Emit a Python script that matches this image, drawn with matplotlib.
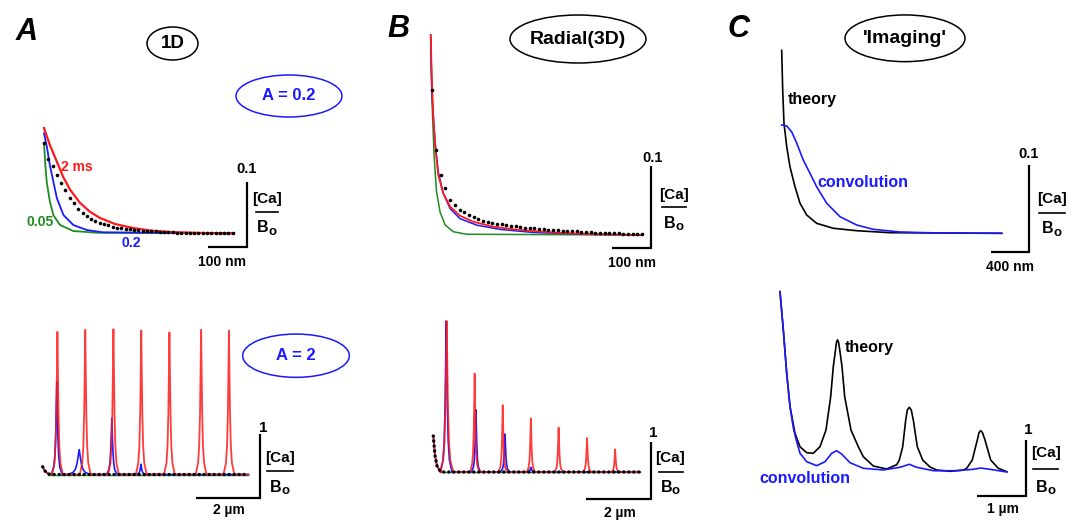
import matplotlib
matplotlib.use("Agg")
import matplotlib.pyplot as plt
from matplotlib.patches import Ellipse

W, H = 1079, 521

plt.rcParams['font.family'] = ['Liberation Sans', 'DejaVu Sans']

RED = '#ff1a1a'
BLUE = '#1a1aff'
GREEN = '#1e8c1e'

# ---- A top: 1D profile near the source, x in nm, y in [Ca]/Bo
a_top_red_x = [0, 15, 31, 49, 67, 92, 118, 144, 182, 228, 272, 323, 400, 487]
a_top_red_y = [0.162, 0.136, 0.113, 0.087, 0.067, 0.047, 0.033, 0.0235, 0.0143, 0.0082, 0.0043, 0.002, 0.0005, 0]
a_top_blue_x = [0, 8, 15, 33, 50, 75, 110, 151, 487]
a_top_blue_y = [0.154, 0.131, 0.105, 0.054, 0.028, 0.0128, 0.005, 0.0015, 0]
a_top_green_x = [0, 3.5, 7, 15, 24, 41, 75, 135, 487]
a_top_green_y = [0.139, 0.105, 0.079, 0.049, 0.028, 0.0128, 0.0035, 0.0009, 0]
# sampled points (black dots)
a_top_dots_x = [0, 11, 22, 33, 44, 55, 66, 77, 88, 99, 110, 121, 132, 143, 154, 165, 176, 187, 198,
                209, 220, 231, 242, 253, 264, 275, 286, 297, 308, 319, 330, 341, 352, 363, 374, 385,
                396, 407, 418, 429, 440, 451, 462, 473, 484]
a_top_dots_y = [0.139, 0.115, 0.103, 0.090, 0.078, 0.066, 0.055, 0.046, 0.037, 0.031, 0.026, 0.022,
                0.019, 0.0163, 0.0143, 0.0124, 0.0104, 0.0086, 0.0078, 0.007, 0.0063, 0.0056, 0.0049,
                0.0042, 0.0035, 0.0031, 0.0028, 0.0024, 0.0021, 0.0018, 0.0015, 0.0012, 0.0009,
                0.0008, 0.0007, 0.0006, 0.0005, 0.0004, 0.0003, 0.0003, 0.0002, 0.0001, 0.0001, 0, 0]

# ---- A bottom: 1D, A = 2, x in um
a_bot_start_x = [0, 0.07, 0.18, 0.3]
a_bot_start_y = [0.12, 0.055, 0.008, 0]
a_bot_red_c = [0.46, 1.33, 2.21, 3.08, 3.96, 4.95, 5.82]
a_bot_red_h = [2.23, 2.26, 2.27, 2.25, 2.22, 2.26, 2.25]
a_bot_blue_c = [0.44, 1.14, 2.16, 3.07]
a_bot_blue_h = [1.45, 0.39, 0.88, 0.16]
a_bot_blue_w = [0.17, 0.35, 0.17, 0.15]
a_bot_end = 6.43

# ---- B top: radial (3D), x in nm
b_top_red_x = [0, 2.6, 6.7, 12.8, 19.5, 32, 50, 75, 109, 160, 229, 306, 400, 543]
b_top_red_y = [0.244, 0.195, 0.142, 0.102, 0.073, 0.051, 0.0345, 0.0235, 0.0162, 0.0101, 0.0061, 0.0033, 0.0012, 0]
b_top_blue_x = [0, 2.6, 11, 19.5, 32, 50, 75, 118, 178, 263, 391, 543]
b_top_blue_y = [0.244, 0.175, 0.114, 0.077, 0.051, 0.032, 0.02, 0.012, 0.0068, 0.0031, 0.0009, 0]
b_top_green_x = [0, 4, 9, 15, 24, 37, 58, 92, 543]
b_top_green_y = [0.24, 0.155, 0.094, 0.053, 0.028, 0.0122, 0.004, 0.0009, 0]
b_top_dots_x = [2.6, 13.6, 25.6, 37, 49.5, 62, 74, 86, 98, 110, 122, 134, 146, 158, 170, 182, 194, 206,
                218, 230, 242, 254, 266, 278, 290, 302, 314, 326, 338, 350, 362, 374, 386, 398, 410,
                422, 434, 446, 458, 470, 482, 494, 506, 518, 530, 542]
b_top_dots_y = [0.177, 0.104, 0.073, 0.057, 0.043, 0.0366, 0.031, 0.028, 0.025, 0.022, 0.0195, 0.0175,
                0.016, 0.015, 0.014, 0.013, 0.012, 0.0112, 0.0104, 0.0097, 0.009, 0.0085, 0.008, 0.0075,
                0.007, 0.0064, 0.006, 0.0056, 0.0052, 0.0049, 0.0046, 0.0043, 0.004, 0.0037, 0.0034,
                0.003, 0.0027, 0.0025, 0.0023, 0.0021, 0.0019, 0.0017, 0.0015, 0.0013, 0.0011, 0.0009]

# ---- B bottom: radial, x in um
b_bot_start_x = [0, 0.05, 0.115, 0.21, 0.3]
b_bot_start_y = [0.625, 0.295, 0.104, 0.017, 0]
b_bot_red_c = [0.415, 1.28, 2.15, 3.02, 3.88, 4.76, 5.63]
b_bot_red_h = [2.62, 1.71, 1.16, 0.93, 0.77, 0.59, 0.39]
b_bot_red_w = [0.2, 0.14, 0.13, 0.13, 0.13, 0.13, 0.12]
b_bot_blue_c = [0.40, 1.32, 2.22, 3.02]
b_bot_blue_h = [2.62, 1.08, 0.66, 0.08]
b_bot_blue_w = [0.18, 0.14, 0.14, 0.14]
b_bot_end = 6.4

# ---- C top: imaging, x in nm
c_top_theory_x = [0, 10.5, 24, 53, 87, 140, 193, 263, 368, 543, 789, 1140, 2316]
c_top_theory_y = [0.211, 0.165, 0.127, 0.0999, 0.0768, 0.0537, 0.0346, 0.0211, 0.0115, 0.0058, 0.003, 0.0007, 0]
c_top_conv_x = [0, 53, 105, 158, 227, 298, 368, 474, 614, 789, 964, 1245, 1666, 2316]
c_top_conv_y = [0.125, 0.1238, 0.117, 0.104, 0.0845, 0.0692, 0.0537, 0.0346, 0.0191, 0.0096, 0.0046, 0.0015, 0.0003, 0]

# ---- C bottom: imaging, x in um
c_bot_theory_x = [0, 0.067, 0.136, 0.203, 0.304, 0.406, 0.542, 0.675, 0.811, 0.933, 1.028, 1.081, 1.126,
                  1.146, 1.166, 1.187, 1.207, 1.258, 1.312, 1.44, 1.588, 1.69, 1.893, 2.164, 2.367, 2.42,
                  2.489, 2.55, 2.582, 2.623, 2.663, 2.704, 2.785, 2.894, 3.043, 3.179, 3.448, 3.718, 3.787,
                  3.9, 4.002, 4.037, 4.071, 4.106, 4.158, 4.274, 4.428, 4.6]
c_bot_theory_y = [3.22, 2.54, 1.76, 1.17, 0.69, 0.45, 0.345, 0.334, 0.452, 0.75, 1.345, 1.88, 2.18,
                  2.32, 2.36, 2.32, 2.21, 1.88, 1.345, 0.75, 0.452, 0.273, 0.107, 0.054, 0.13, 0.214,
                  0.452, 0.929, 1.107, 1.155, 1.107, 0.929, 0.452, 0.214, 0.089, 0.035, 0.0125, 0.035, 0.066,
                  0.214, 0.571, 0.705, 0.738, 0.705, 0.571, 0.214, 0.066, 0.005]
c_bot_conv_x = [0, 0.067, 0.136, 0.203, 0.27, 0.339, 0.406, 0.542, 0.744, 0.913, 1.049, 1.15, 1.252,
                1.42, 1.69, 2.095, 2.434, 2.623, 2.773, 3.11, 3.584, 3.92, 4.07, 4.26, 4.6]
c_bot_conv_y = [3.22, 2.54, 1.76, 1.17, 0.79, 0.54, 0.334, 0.184, 0.113, 0.184, 0.334, 0.38, 0.32,
                0.166, 0.066, 0.036, 0.084, 0.1375, 0.084, 0.023, 0.023, 0.048, 0.071, 0.048, 0]

# shape of one sharp peak: offset in half-widths, fraction of peak height
PEAK_DX = [-1.0, -0.55, -0.35, -0.2, -0.1, 0.0, 0.1, 0.2, 0.35, 0.55, 1.0]
PEAK_FRAC = [0.0, 0.08, 0.2, 0.42, 0.7, 1.0, 0.7, 0.42, 0.2, 0.08, 0.0]


def peak_train(start_x, start_y, centers, heights, widths, x_end):
    xs, ys = list(start_x), list(start_y)
    for c, h, w in zip(centers, heights, widths):
        xs += [c + w * d for d in PEAK_DX]
        ys += [h * f for f in PEAK_FRAC]
    xs.append(x_end)
    ys.append(0)
    return xs, ys


fig = plt.figure(figsize=(W / 100, H / 100), dpi=100)


def panel(x0, y0, sx, sy):
    # full-figure axes whose data origin sits at pixel (x0, y0)
    ax = fig.add_axes([0, 0, 1, 1])
    ax.set_xlim(-x0 / sx, (W - x0) / sx)
    ax.set_ylim((y0 - H) / sy, y0 / sy)
    ax.axis('off')
    ax.patch.set_alpha(0)
    ax.px = (x0, y0, sx, sy)
    return ax


def scalebar(ax, corner_px, lx, ly):
    x0, y0, sx, sy = ax.px
    cx = (corner_px[0] - x0) / sx
    cy = (y0 - corner_px[1]) / sy
    ax.plot([cx - lx, cx, cx], [cy, cy, cy + ly], color='black', lw=1.6,
            solid_joinstyle='miter', solid_capstyle='butt')


def dotted(ax, x, y):
    ax.plot(x, y, color='black', lw=2.4, linestyle=(0, (0.05, 1.45)),
            dash_capstyle='round')


def markers(ax, x, y):
    ax.plot(x, y, linestyle='none', marker='o', ms=2.6, color='black', mew=0)


# A top
ax = panel(44, 233.3, 0.39, 650)
ax.plot(a_top_green_x, a_top_green_y, color=GREEN, lw=1.3)
ax.plot(a_top_blue_x, a_top_blue_y, color=BLUE, lw=1.3)
ax.plot(a_top_red_x, a_top_red_y, color=RED, lw=1.6)
markers(ax, a_top_dots_x, a_top_dots_y)
scalebar(ax, (246.7, 246.7), 100, 0.1)

# A bottom
ax = panel(42.7, 474.5, 32, 64)
ax.plot([0.18, a_bot_end], [0, 0], color=GREEN, lw=1.0)
bx, by = peak_train(a_bot_start_x, a_bot_start_y, a_bot_blue_c, a_bot_blue_h, a_bot_blue_w, a_bot_end)
ax.plot(bx, by, color=BLUE, lw=1.2)
rx, ry = peak_train(a_bot_start_x, a_bot_start_y, a_bot_red_c, a_bot_red_h, [0.17] * 7, a_bot_end)
ax.plot(rx, ry, color=RED, lw=1.3, alpha=0.85)
dotted(ax, a_bot_start_x + [a_bot_end], a_bot_start_y + [0])
scalebar(ax, (260, 498.3), 2, 1)

# B top
ax = panel(430.7, 235, 0.39, 820)
ax.plot(b_top_green_x, b_top_green_y, color=GREEN, lw=1.1)
ax.plot(b_top_blue_x, b_top_blue_y, color=BLUE, lw=1.1)
ax.plot(b_top_red_x, b_top_red_y, color=RED, lw=1.3)
markers(ax, b_top_dots_x, b_top_dots_y)
scalebar(ax, (650.5, 248), 100, 0.1)

# B bottom
ax = panel(433.3, 472, 32.3, 57.6)
ax.plot([0.2, b_bot_end], [0, 0], color=GREEN, lw=1.0)
bx, by = peak_train(b_bot_start_x, b_bot_start_y, b_bot_blue_c, b_bot_blue_h, b_bot_blue_w, b_bot_end)
ax.plot(bx, by, color=BLUE, lw=1.2)
rx, ry = peak_train(b_bot_start_x, b_bot_start_y, b_bot_red_c, b_bot_red_h, b_bot_red_w, b_bot_end)
ax.plot(rx, ry, color=RED, lw=1.3, alpha=0.85)
dotted(ax, b_bot_start_x + [b_bot_end], b_bot_start_y + [0])
scalebar(ax, (650.7, 499.3), 2, 1)

# C top
ax = panel(781.7, 233.3, 0.095, 867)
ax.plot(c_top_theory_x, c_top_theory_y, color='black', lw=1.2)
ax.plot(c_top_conv_x, c_top_conv_y, color=BLUE, lw=1.2)
scalebar(ax, (1028.7, 251.7), 400, 0.1)

# C bottom
ax = panel(780, 472, 49.3, 56)
ax.plot(c_bot_theory_x, c_bot_theory_y, color='black', lw=1.2)
ax.plot(c_bot_conv_x, c_bot_conv_y, color=BLUE, lw=1.2)
scalebar(ax, (1026, 496), 1, 1)

# ---- text and decorations in pixel coordinates
t = fig.add_axes([0, 0, 1, 1])
t.set_xlim(0, W)
t.set_ylim(H, 0)
t.axis('off')
t.patch.set_alpha(0)


def label(x, y, s, size=10.5, color='black', **kw):
    t.text(x, y, s, fontsize=size, color=color, fontweight='bold',
           ha='center', va='center', **kw)


def oval(x, y, w, h, s, color='black', size=14):
    t.add_patch(Ellipse((x, y), w, h, fill=False, edgecolor=color, lw=1.1))
    label(x, y, s, size=size, color=color)


def ratio(x, y_top, y_line, y_bot, half):
    label(x, y_top, '[Ca]', size=11)
    t.plot([x - half, x + half], [y_line, y_line], color='black', lw=1.2)
    label(x - 4, y_bot, 'B', size=11.5)
    label(x + 5.5, y_bot + 4, 'o', size=9.5)


for x, y, s in [(26.5, 32, 'A'), (398.3, 29, 'B'), (738.3, 29, 'C')]:
    t.text(x, y, s, fontsize=22, fontweight='bold', fontstyle='italic',
           ha='center', va='center')

oval(172.5, 43.5, 51, 33, '1D', size=13.5)
oval(578, 39, 136, 48, 'Radial(3D)')
oval(905, 38.3, 120, 46.7, "'Imaging'")
oval(289, 96, 106, 42, 'A = 0.2', color=BLUE, size=12)
oval(296, 355.7, 106.7, 43.3, 'A = 2', color=BLUE, size=12)

label(77, 167, '2 ms', size=10, color=RED)
label(40.5, 222, '0.05', size=10, color=GREEN)
label(131, 243, '0.2', size=10, color=BLUE)

label(246.7, 169, '0.1')
ratio(266.7, 199.3, 211.7, 228, 11)
label(222, 262, '100 nm', size=10)
label(263.5, 427.5, '1', size=11)
ratio(279.7, 458.3, 470.7, 487.5, 13)
label(229.3, 510, '2 µm', size=10)

label(652.7, 158.3, '0.1')
ratio(673.8, 195, 207.3, 223, 12)
label(631.7, 263.3, '100 nm', size=10)
label(653.3, 433.3, '1', size=11)
ratio(670.5, 458.3, 471.7, 487, 12)
label(620, 513.3, '2 µm', size=10)

label(812.5, 99.3, 'theory', size=11.5)
label(863, 182.7, 'convolution', size=11.5, color=BLUE)
label(1028.3, 154.3, '0.1')
ratio(1051.5, 199.3, 213.3, 228.5, 13)
label(1010, 266.7, '400 nm', size=10)
label(869, 347.3, 'theory', size=11.5)
label(805, 478.3, 'convolution', size=11.5, color=BLUE)
label(1028.3, 430, '1', size=11)
ratio(1045.8, 452.7, 469.3, 487, 12.5)
label(1003.3, 509.3, '1 µm', size=10)

fig.savefig('out.png', dpi=100)
